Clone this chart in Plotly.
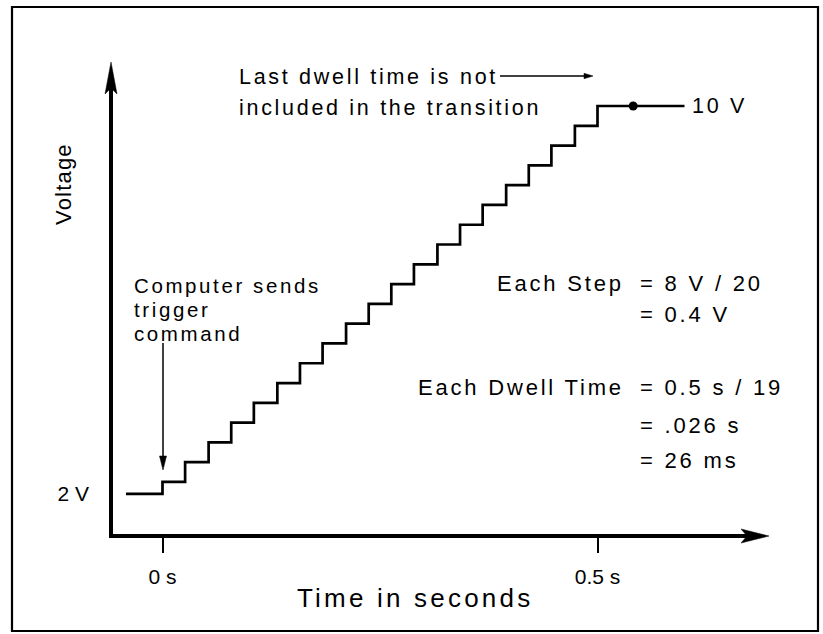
import plotly.graph_objects as go

# ---------------- data ----------------
start_time = -0.042          # s, flat segment before trigger (drawn at the "2 V" level)
start_volt = 2.16
step_times = [0.000, 0.026, 0.053, 0.079, 0.105, 0.132, 0.158, 0.184, 0.211, 0.237,
              0.263, 0.289, 0.316, 0.342, 0.368, 0.395, 0.421, 0.447, 0.474, 0.500]
step_volts = [2.4, 2.8, 3.2, 3.6, 4.0, 4.4, 4.8, 5.2, 5.6, 6.0,
              6.4, 6.8, 7.2, 7.6, 8.0, 8.4, 8.8, 9.2, 9.6, 10.0]
end_time = 0.600
dot_time = 0.541
dot_volt = 10.0
x_tick_vals = [0, 0.5]
x_tick_text = ["0 s", "0.5 s"]
y_tick_vals = [start_volt]
y_tick_text = ["2 V"]

# ---------------- layout geometry (pixels) ----------------
W, H = 823, 634
L, R, T, B = 111, 745, 90, 536          # plot area
PX_PER_S = 870.0
T0_PX = 162.5
PX_PER_V = 49.47
V10_PX = 106.0

x_range = [(L - T0_PX) / PX_PER_S, (R - T0_PX) / PX_PER_S]
y_range = [10 - (B - V10_PX) / PX_PER_V, 10 + (V10_PX - T) / PX_PER_V]

def px(x):
    return (x - L) / (R - L)

def py(y):
    return (B - y) / (B - T)

FONT = "Liberation Sans, Arial, Helvetica, sans-serif"

def spaced(s, ls=2.6):
    return f'<span style="letter-spacing:{ls}px">{s}</span>'

xs = [start_time] + step_times + [end_time]
ys = [start_volt] + step_volts + [step_volts[-1]]

fig = go.Figure()
fig.add_trace(go.Scatter(x=xs, y=ys, mode="lines", line=dict(color="black", width=2.7, shape="hv"),
                         hoverinfo="skip", showlegend=False, cliponaxis=False))
fig.add_trace(go.Scatter(x=[dot_time], y=[dot_volt], mode="markers",
                         marker=dict(color="black", size=9), hoverinfo="skip", showlegend=False,
                         cliponaxis=False))

shapes = []
def line(x0, y0, x1, y1, w):
    shapes.append(dict(type="line", xref="paper", yref="paper", x0=px(x0), x1=px(x1), y0=py(y0), y1=py(y1),
                       line=dict(color="black", width=w)))

def poly(points):
    p = "M " + " L ".join(f"{px(x)},{py(y)}" for x, y in points) + " Z"
    shapes.append(dict(type="path", xref="paper", yref="paper", path=p,
                       fillcolor="black", line=dict(color="black", width=0.5)))

# outer frame
shapes.append(dict(type="rect", xref="paper", yref="paper", x0=px(12), x1=px(818), y0=py(631), y1=py(7),
                   line=dict(color="black", width=2.2)))
# axes
line(111, 538, 111, 86, 4)
line(109, 536, 748, 536, 4)
poly([(111, 62), (117, 94), (111, 88), (105, 94)])
poly([(769, 536), (741, 543), (747, 536), (741, 529)])
# top annotation arrow
line(500, 76, 586, 76, 1.3)
poly([(593, 76), (584, 73.3), (584, 78.7)])
# trigger arrow
line(163, 343, 163, 458, 1.5)
poly([(163, 470), (159.5, 456), (166.5, 456)])

ann = []
def text(s, x, y, size=21, anchor="left", angle=0, ls=2.6):
    ann.append(dict(text=spaced(s, ls), x=px(x), y=py(y), xref="paper", yref="paper",
                    xanchor=anchor, yanchor="middle", showarrow=False, textangle=angle,
                    font=dict(family=FONT, size=size, color="black")))

text("Last dwell time is not", 237, 77, size=21.5, ls=2.7)
text("included in the transition", 237, 108, size=21.5, ls=2.7)
text("10 V", 690, 106, size=21.5, ls=2.7)
text("Computer sends", 132, 285, size=20.5)
text("trigger", 132, 309, size=20.5)
text("command", 132, 333, size=20.5)
EQ = 638
text("Each Step", EQ - 12, 283, size=22, anchor="right", ls=2.8)
text("= 8 V / 20", EQ, 283, size=22, ls=2.8)
text("= 0.4 V", EQ, 314, size=22, ls=2.8)
text("Each Dwell Time", EQ - 12, 388, size=22, anchor="right", ls=2.8)
text("= 0.5 s / 19", EQ, 388, size=22, ls=2.8)
text("= .026 s", EQ, 425, size=22, ls=2.8)
text("= 26 ms", EQ, 460, size=22, ls=2.8)
text("Voltage", 63, 184, size=22, angle=-90, anchor="center", ls=1.2)
text("Time in seconds", 415, 598, size=26, anchor="center", ls=3.2)

fig.update_layout(
    width=W, height=H,
    margin=dict(l=L, r=W - R, t=T, b=H - B, pad=0),
    paper_bgcolor="white", plot_bgcolor="white",
    shapes=shapes, annotations=ann, showlegend=False,
    xaxis=dict(range=x_range, showgrid=False, zeroline=False, showline=False,
               ticks="outside", ticklen=16, tickwidth=1.5, tickcolor="black",
               tickvals=x_tick_vals, ticktext=x_tick_text, ticklabelstandoff=6,
               tickfont=dict(family=FONT, size=21, color="black")),
    yaxis=dict(range=y_range, showgrid=False, zeroline=False, showline=False,
               ticks="", tickvals=y_tick_vals, ticktext=y_tick_text, ticklabelstandoff=21,
               tickfont=dict(family=FONT, size=21, color="black")),
)

fig.write_html("out.html",
               config={"displayModeBar": False},
               post_script="document.body.style.margin='0';document.body.style.padding='0';")
